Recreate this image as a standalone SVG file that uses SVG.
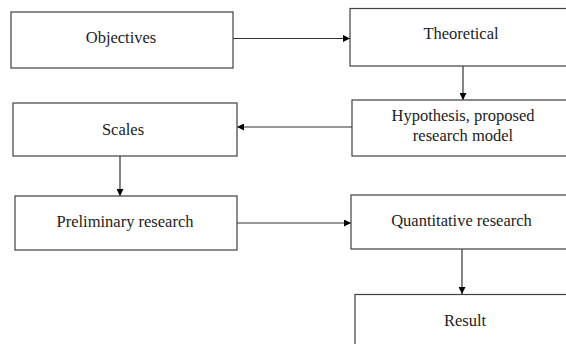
<svg xmlns="http://www.w3.org/2000/svg" width="566" height="344" viewBox="0 0 566 344">
<defs>
<marker id="arr" viewBox="0 0 10 10" refX="10" refY="5" markerWidth="8" markerHeight="7" markerUnits="userSpaceOnUse" orient="auto">
<path d="M0,0 L10,5 L0,10 Z" fill="#000"/>
</marker>
</defs>
<style>
.box{fill:#fff;stroke:#404040;stroke-width:1.2}
.lbl{font-family:"Liberation Serif","Times New Roman",serif;font-size:16.5px;fill:#222;text-anchor:middle}
.con{stroke:#333;stroke-width:1.2;fill:none;marker-end:url(#arr)}
</style>
<rect width="566" height="344" fill="#fff"/>
<g id="connectors">
<line class="con" x1="233" y1="38.5" x2="350" y2="38.5"/>
<line class="con" x1="463" y1="66" x2="463" y2="100"/>
<line class="con" x1="352" y1="127" x2="237" y2="127"/>
<line class="con" x1="120" y1="156" x2="120" y2="196"/>
<line class="con" x1="237" y1="223" x2="351" y2="223"/>
<line class="con" x1="462" y1="249" x2="462" y2="294"/>
</g>
<g id="objectives">
<rect class="box" x="11" y="12" width="222" height="56"/>
<text class="lbl" x="121" y="43">Objectives</text>
</g>
<g id="theoretical">
<rect class="box" x="350" y="8.5" width="230" height="57.5"/>
<text class="lbl" x="461" y="39">Theoretical</text>
</g>
<g id="hypothesis">
<rect class="box" x="352" y="100" width="230" height="56"/>
<text class="lbl" x="463" y="121">Hypothesis, proposed</text>
<text class="lbl" x="463" y="141">research model</text>
</g>
<g id="scales">
<rect class="box" x="13" y="103" width="224" height="53"/>
<text class="lbl" x="123" y="135">Scales</text>
</g>
<g id="preliminary">
<rect class="box" x="15" y="196" width="222" height="54"/>
<text class="lbl" x="125" y="227">Preliminary research</text>
</g>
<g id="quantitative">
<rect class="box" x="351" y="195" width="230" height="54"/>
<text class="lbl" x="461.5" y="226">Quantitative research</text>
</g>
<g id="result">
<rect class="box" x="355" y="294.5" width="230" height="60"/>
<text class="lbl" x="465" y="326">Result</text>
</g>
</svg>
